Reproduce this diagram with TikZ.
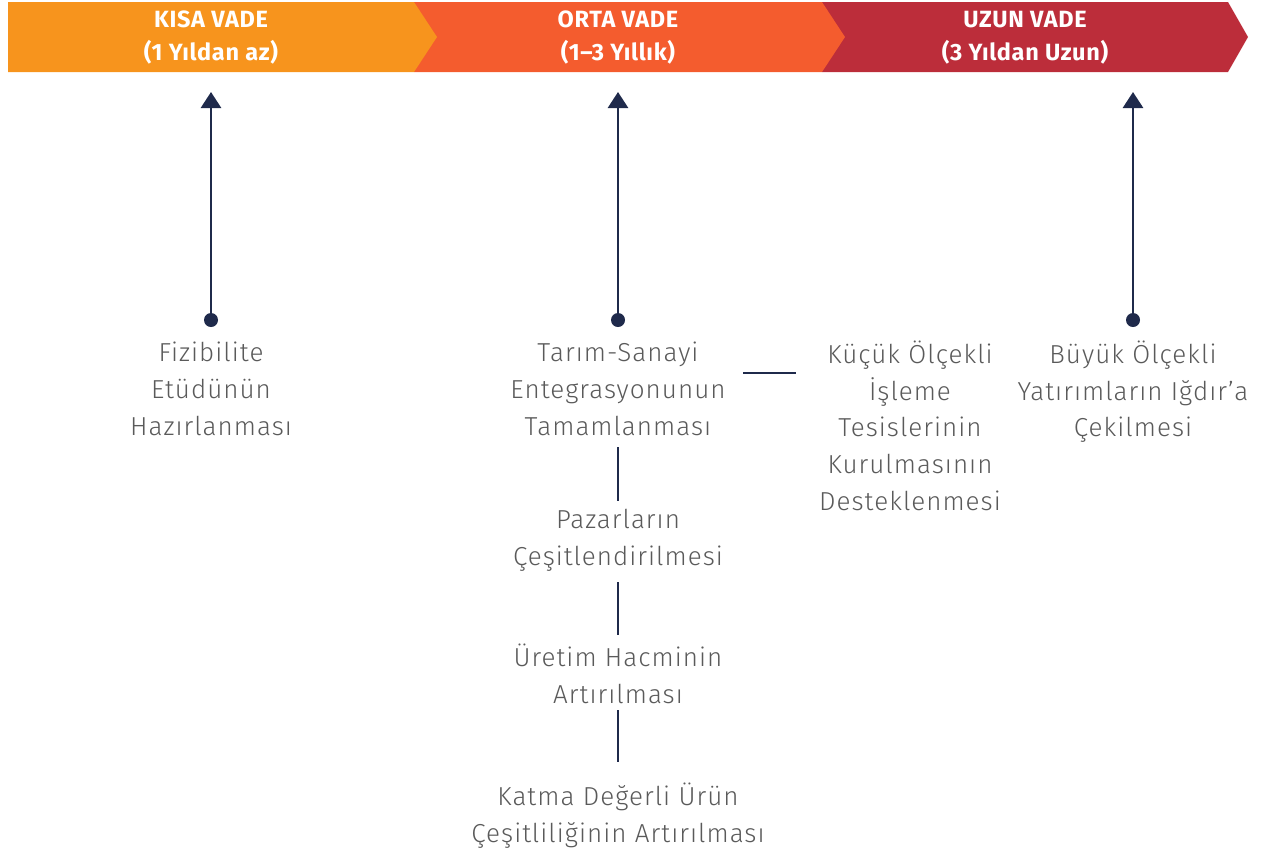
\documentclass[tikz,border=0pt]{standalone}
\usepackage{fontspec}
\setmainfont{Fira Sans}
\newfontfamily\lightfont[LetterSpace=4]{Fira Sans Light}
\newfontfamily\hdrfont[LetterSpace=3]{Fira Sans Bold}
\usetikzlibrary{arrows.meta}
\definecolor{cOrange}{HTML}{F7941D}
\definecolor{cOrRed}{HTML}{F45C2E}
\definecolor{cRed}{HTML}{BC2D3A}
\definecolor{cNavy}{HTML}{1F2A4B}
\definecolor{cText}{HTML}{5A5A5A}
\tikzset{
  hdr/.style={align=center, text=white, inner sep=0pt, font=\hdrfont\fontsize{23.5}{33}\selectfont},
  txt/.style={align=center, anchor=north, inner sep=0pt, text=cText,
    font=\lightfont\fontsize{26}{36.8}\selectfont, execute at begin node=\strut},
  dotnode/.style={circle, fill=cNavy, minimum size=14pt, inner sep=0pt},
  arrowline/.style={draw=cNavy, line width=2.8pt, -{Triangle[width=20pt,length=16pt]}},
  conn/.style={draw=cNavy, line width=2.6pt},
}
\begin{document}
\begin{tikzpicture}[x=1pt,y=-1pt]
\useasboundingbox (0,0) rectangle (1267,855);
% header bands
\fill[cRed] (822,2) -- (1228,2) -- (1248,37) -- (1228,72) -- (822,72) -- cycle;
\fill[cOrRed] (414,2) -- (822,2) -- (845,37) -- (822,72) -- (414,72) -- cycle;
\fill[cOrange] (8,2) -- (414,2) -- (437,37) -- (414,72) -- (8,72) -- cycle;
\node[hdr] (h1) at (211,38) {KISA VADE\\(1 Yıldan az)};
\node[hdr] (h2) at (618,38) {ORTA VADE\\(1–3 Yıllık)};
\node[hdr] (h3) at (1025,38) {UZUN VADE\\(3 Yıldan Uzun)};
% arrows
\node[dotnode] (d1) at (211,320) {};
\node[dotnode] (d2) at (618,320) {};
\node[dotnode] (d3) at (1133,320) {};
\coordinate (t1) at (211,92);
\coordinate (t2) at (618,92);
\coordinate (t3) at (1133,92);
\draw[arrowline] (d1.center) -- (t1);
\draw[arrowline] (d2.center) -- (t2);
\draw[arrowline] (d3.center) -- (t3);
% texts
\node[txt] (a1) at (211,363-21.3) {Fizibilite\\Etüdünün\\Hazırlanması};
\node[txt] (b1) at (618,363-21.3) {Tarım-Sanayi\\Entegrasyonunun\\Tamamlanması};
\node[txt] (c1) at (910,363-22.5) {Küçük Ölçekli\\İşleme\\Tesislerinin\\Kurulmasının\\Desteklenmesi};
\node[txt] (e1) at (1133,363-22.5) {Büyük Ölçekli\\Yatırımların Iğdır’a\\Çekilmesi};
\node[txt] (b2) at (618,530-21.3) {Pazarların\\Çeşitlendirilmesi};
\node[txt] (b3) at (618,665-21.3) {Üretim Hacminin\\Artırılması};
\node[txt] (b4) at (618,804-21.3) {Katma Değerli Ürün\\Çeşitliliğinin Artırılması};
% connectors
\coordinate (hl1) at (743,373);
\coordinate (hl2) at (796,373);
\draw[conn] (hl1) -- (hl2);
\coordinate (v1a) at (618,447);
\coordinate (v1b) at (618,501);
\draw[conn] (v1a) -- (v1b);
\coordinate (v2a) at (618,582);
\coordinate (v2b) at (618,635);
\draw[conn] (v2a) -- (v2b);
\coordinate (v3a) at (618,710);
\coordinate (v3b) at (618,762);
\draw[conn] (v3a) -- (v3b);
\end{tikzpicture}
\end{document}
